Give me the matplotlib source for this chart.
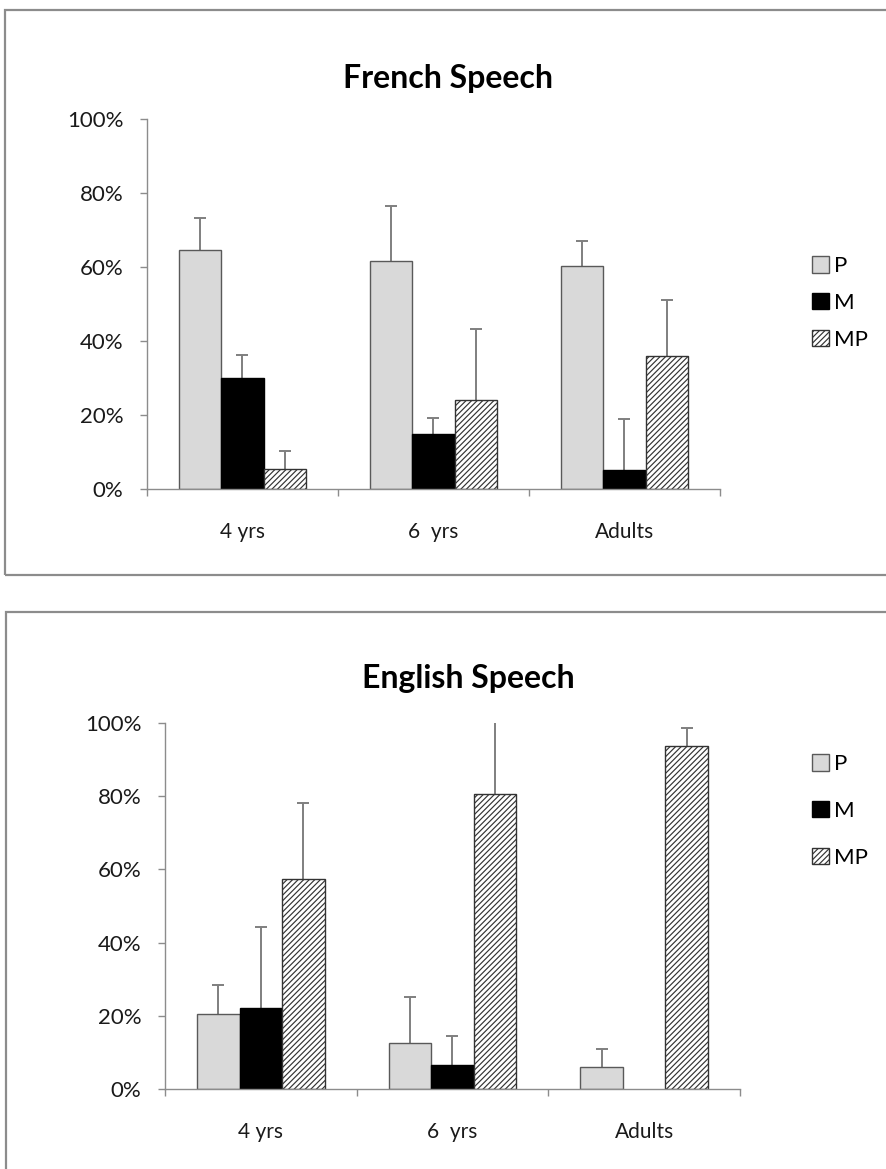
import numpy as np
import matplotlib
matplotlib.use("Agg")
from matplotlib import pyplot as plt
from matplotlib.patches import Rectangle

plt.rcParams['font.family'] = ['Lato', 'DejaVu Sans']
plt.rcParams['hatch.linewidth'] = 0.85

groups = ["4 yrs", "6  yrs", "Adults"]
series = ["P", "M", "MP"]

french_p = [0.646, 0.615, 0.603]
french_m = [0.301, 0.148, 0.051]
french_mp = [0.054, 0.240, 0.359]
french_p_err = [0.087, 0.150, 0.068]
french_m_err = [0.061, 0.045, 0.138]
french_mp_err = [0.049, 0.192, 0.153]

english_p = [0.204, 0.126, 0.061]
english_m = [0.222, 0.065, 0.0]
english_mp = [0.573, 0.807, 0.937]
english_p_err = [0.080, 0.126, 0.048]
english_m_err = [0.220, 0.080, 0.0]
english_mp_err = [0.209, 0.220, 0.049]

W, H = 887, 1169
fig = plt.figure(figsize=(W / 100, H / 100), dpi=100)

# panel frames like the Excel chart areas
for (x0, y0, x1, y1) in [(5, 10, 892, 575), (6, 612, 892, 1180)]:
    fig.patches.append(Rectangle((x0 / W, 1 - y1 / H), (x1 - x0) / W, (y1 - y0) / H,
                                 transform=fig.transFigure, fill=False,
                                 edgecolor="#8c8c8c", linewidth=1.6))

styles = [
    dict(color="#d9d9d9", edgecolor="#595959", linewidth=1.0),
    dict(color="black", edgecolor="black", linewidth=1.0),
    dict(color="white", edgecolor="#333333", linewidth=1.0, hatch="//////"),
]
err_color = "#7f7f7f"


def draw_panel(rect, title, title_xy, vals, errs, legend_xy, spacing):
    ax = fig.add_axes(rect)
    x = np.arange(len(groups))
    w = 0.2225
    handles = []
    for i, (v, e, st) in enumerate(zip(vals, errs, styles)):
        pos = x + (i - 1) * w
        v = np.asarray(v)
        e = np.asarray(e)
        b = ax.bar(pos, v, w, label=series[i], zorder=2, **st)
        for p, h in zip(b.patches, v):
            if h == 0:
                p.set_visible(False)
        handles.append(b)
        # upper error bars only, no cap at the bar top
        keep = e > 0
        ax.vlines(pos[keep], v[keep], v[keep] + e[keep], color=err_color, linewidth=1.4, zorder=1)
        ax.plot(pos[keep], v[keep] + e[keep], linestyle="none", marker="_", markersize=9,
                markeredgewidth=1.4, color=err_color, zorder=1)
    ax.set_xlim(-0.5, 2.5)
    ax.set_ylim(0, 1.0)
    ticks = np.arange(0, 1.01, 0.2)
    ax.set_yticks(ticks)
    ax.set_yticklabels([f"{int(round(t * 100))}%" for t in ticks])
    ax.set_xticks(x)
    ax.set_xticklabels(groups)
    ax.set_xticks([-0.5, 0.5, 1.5, 2.5], minor=True)
    ax.tick_params(axis="x", which="major", length=0, pad=24, labelsize=15, labelcolor="#1a1a1a")
    ax.tick_params(axis="x", which="minor", length=5, width=1, color="#8c8c8c", direction="out")
    ax.tick_params(axis="y", length=5, width=1, color="#8c8c8c", pad=12, labelsize=16,
                   labelcolor="#1a1a1a")
    for s in ["top", "right"]:
        ax.spines[s].set_visible(False)
    for s in ["left", "bottom"]:
        ax.spines[s].set_color("#8c8c8c")
        ax.spines[s].set_linewidth(1.0)
        ax.spines[s].set_zorder(3)
    fig.text(title_xy[0] / W, 1 - title_xy[1] / H, title, ha="center", va="baseline",
             fontsize=23, fontweight="bold", color="black")
    ax.legend(handles, series, frameon=False, loc="center left",
              bbox_to_anchor=(legend_xy[0] / W, 1 - legend_xy[1] / H),
              bbox_transform=fig.transFigure, borderpad=0, borderaxespad=0,
              handlelength=0.75, handleheight=0.75, handletextpad=0.25,
              labelspacing=spacing, fontsize=16)
    return ax


draw_panel([147 / W, 1 - 489 / H, 573 / W, 370 / H], "French Speech", (448, 88),
           [french_p, french_m, french_mp], [french_p_err, french_m_err, french_mp_err],
           (812, 303), 0.75)
draw_panel([165 / W, 1 - 1089 / H, 575 / W, 366 / H], "English Speech", (468, 688),
           [english_p, english_m, english_mp], [english_p_err, english_m_err, english_mp_err],
           (812, 811), 1.2)

fig.savefig("out.png", dpi=100)
